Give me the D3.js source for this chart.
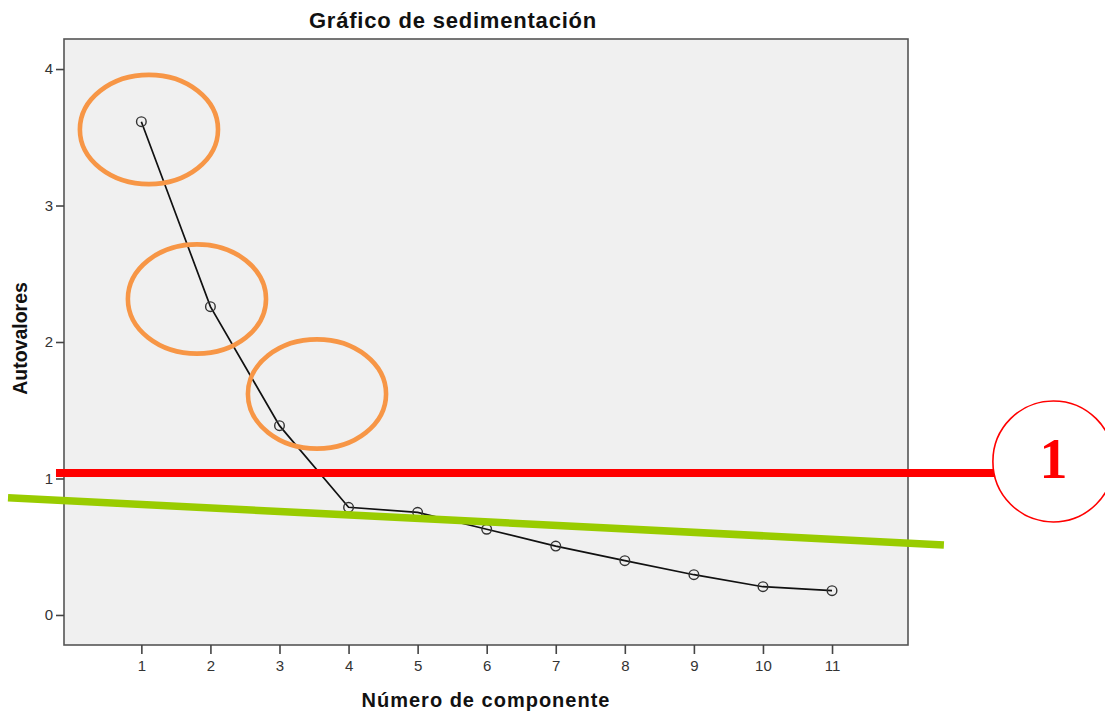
<!DOCTYPE html>
<html>
<head>
<meta charset="utf-8">
<script src="https://cdn.jsdelivr.net/npm/d3@7/dist/d3.min.js"></script>
<style>
  html, body { margin: 0; padding: 0; background: #ffffff; }
  svg { display: block; }
</style>
</head>
<body>
<svg id="chart" width="1105" height="713"></svg>
<script>
// ---- data ----
const components = [1, 2, 3, 4, 5, 6, 7, 8, 9, 10, 11];
const eigenvalues = [3.614, 2.259, 1.387, 0.789, 0.752, 0.628, 0.505, 0.398, 0.295, 0.207, 0.178];
const xTicks = [1, 2, 3, 4, 5, 6, 7, 8, 9, 10, 11];
const yTicks = [0, 1, 2, 3, 4];
const chartTitle = "Gráfico de sedimentación";
const xLabel = "Número de componente";
const yLabel = "Autovalores";

// annotations (in data units)
const ellipseCentersX = [1.11, 1.805, 3.543];
const ellipseCentersY = [3.557, 2.315, 1.619];
const redLineY = 1.04;
const redLineX = [-0.236, 13.35];
const redCircle = [14.205, 1.125];
const redCircleLabel = "1";
const greenLineX = [-0.931, 12.62];
const greenLineY = [0.859, 0.513];

// ---- layout ----
const svg = d3.select("#chart");
const pLeft = 64, pRight = 908, pTop = 39, pBottom = 645;

const x = d3.scaleLinear().domain([-0.12, 12.1]).range([pLeft, pRight]);
const y = d3.scaleLinear().domain([-0.22, 4.22]).range([pBottom, pTop]);

// plot background
svg.append("rect")
  .attr("x", pLeft).attr("y", pTop)
  .attr("width", pRight - pLeft).attr("height", pBottom - pTop)
  .attr("fill", "#f0f0f0")
  .attr("stroke", "#555").attr("stroke-width", 1.6);

// axes
const xAxis = svg.append("g")
  .attr("transform", `translate(0,${pBottom})`)
  .call(d3.axisBottom(x).tickValues(xTicks).tickSize(9).tickPadding(6).tickFormat(d3.format("d")));
const yAxis = svg.append("g")
  .attr("transform", `translate(${pLeft},0)`)
  .call(d3.axisLeft(y).tickValues(yTicks).tickSize(8).tickPadding(3).tickFormat(d3.format("d")));

[xAxis, yAxis].forEach(g => {
  g.select(".domain").remove();
  g.selectAll(".tick line").attr("stroke", "#444").attr("stroke-width", 1.6);
  g.selectAll(".tick text")
    .attr("fill", "#333")
    .style("font-family", "'Liberation Sans Narrow', 'Liberation Sans', Arial, sans-serif")
    .style("font-size", "15px");
});

// line + markers
const pts = components.map((c, i) => [c, eigenvalues[i]]);
svg.append("path")
  .datum(pts)
  .attr("fill", "none")
  .attr("stroke", "#111")
  .attr("stroke-width", 1.7)
  .attr("d", d3.line().x(d => x(d[0])).y(d => y(d[1])));

svg.selectAll("circle.pt")
  .data(pts)
  .enter().append("circle")
  .attr("class", "pt")
  .attr("cx", d => x(d[0])).attr("cy", d => y(d[1]))
  .attr("r", 4.8)
  .attr("fill", "none")
  .attr("stroke", "#333")
  .attr("stroke-width", 1.4);

// title & axis labels
svg.append("text")
  .attr("x", 453).attr("y", 28)
  .attr("text-anchor", "middle")
  .style("font-family", "'Liberation Sans', Arial, sans-serif")
  .style("font-weight", "bold")
  .style("font-size", "22px")
  .style("letter-spacing", "0.8px")
  .attr("fill", "#111")
  .text(chartTitle);

svg.append("text")
  .attr("x", 486).attr("y", 707)
  .attr("text-anchor", "middle")
  .style("font-family", "'Liberation Sans', Arial, sans-serif")
  .style("font-weight", "bold")
  .style("font-size", "20px")
  .style("letter-spacing", "1px")
  .attr("fill", "#111")
  .text(xLabel);

svg.append("text")
  .attr("transform", "translate(27,338.5) rotate(-90)")
  .attr("text-anchor", "middle")
  .style("font-family", "'Liberation Sans', Arial, sans-serif")
  .style("font-weight", "bold")
  .style("font-size", "19.5px")
  .attr("fill", "#111")
  .text(yLabel);

// ---- annotations ----
const rxUnits = 1.0, ryUnits = 0.4;
svg.selectAll("ellipse.ann")
  .data(ellipseCentersX.map((cx, i) => [cx, ellipseCentersY[i]]))
  .enter().append("ellipse")
  .attr("class", "ann")
  .attr("cx", d => x(d[0])).attr("cy", d => y(d[1]))
  .attr("rx", x(rxUnits) - x(0)).attr("ry", y(0) - y(ryUnits))
  .attr("fill", "none")
  .attr("stroke", "#f79646")
  .attr("stroke-width", 4.6);

svg.append("line")
  .attr("x1", x(greenLineX[0])).attr("y1", y(greenLineY[0]))
  .attr("x2", x(greenLineX[1])).attr("y2", y(greenLineY[1]))
  .attr("stroke", "#99cc00").attr("stroke-width", 7.5);

svg.append("line")
  .attr("x1", x(redLineX[0])).attr("y1", y(redLineY))
  .attr("x2", x(redLineX[1])).attr("y2", y(redLineY))
  .attr("stroke", "#ff0000").attr("stroke-width", 8);

svg.append("circle")
  .attr("cx", x(redCircle[0])).attr("cy", y(redCircle[1]))
  .attr("r", 60.5)
  .attr("fill", "#ffffff")
  .attr("stroke", "#ff0000").attr("stroke-width", 1.6);

svg.append("text")
  .attr("x", x(redCircle[0])).attr("y", 477.5)
  .attr("text-anchor", "middle")
  .style("font-family", "'Liberation Serif', 'Times New Roman', serif")
  .style("font-weight", "bold")
  .style("font-size", "56px")
  .attr("fill", "#ff0000")
  .text(redCircleLabel);
</script>
</body>
</html>
